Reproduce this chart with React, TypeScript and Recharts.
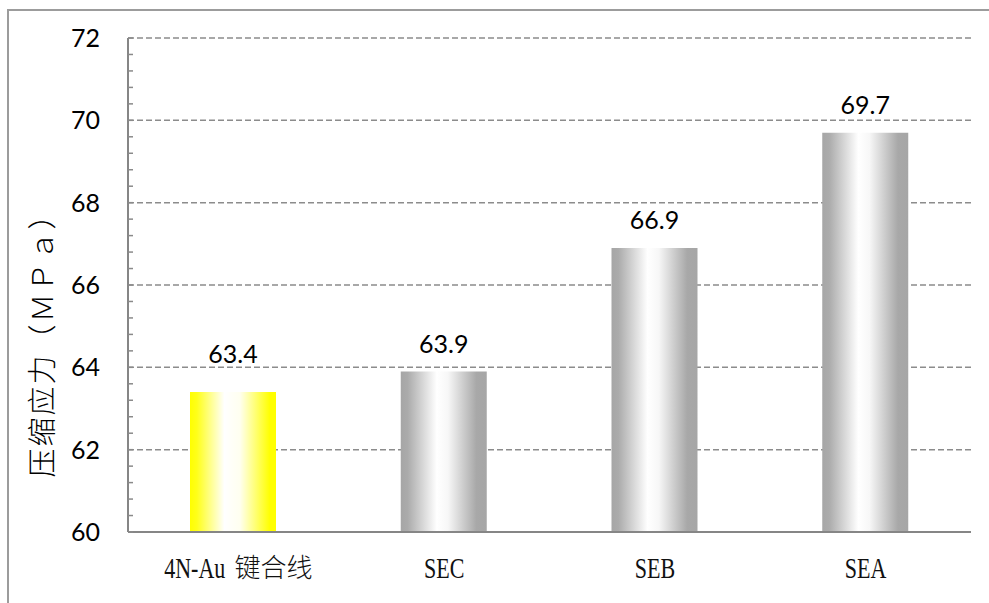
import React from 'react';
import { BarChart, Bar, XAxis, YAxis, CartesianGrid, Cell, LabelList } from 'recharts';

const categories = ['4N-Au 键合线', 'SEC', 'SEB', 'SEA'];
const values = [63.4, 63.9, 66.9, 69.7];
const fills = ['url(#yellowGrad)', 'url(#grayGrad)', 'url(#grayGrad)', 'url(#grayGrad)'];
const labelGaps = [29, 18, 19, 19];
const yTicks = [60, 62, 64, 66, 68, 70, 72];
const minorTicks = [
  60, 60.4, 60.8, 61.2, 61.6, 62, 62.4, 62.8, 63.2, 63.6, 64, 64.4, 64.8, 65.2, 65.6, 66,
  66.4, 66.8, 67.2, 67.6, 68, 68.4, 68.8, 69.2, 69.6, 70, 70.4, 70.8, 71.2, 71.6, 72,
];
const yLabel = '压缩应力（ＭＰａ）';

const data = categories.map((name, i) => ({ name, value: values[i] }));

const LATIN_FONT = "'Liberation Serif', serif";
const CJK_FONT = "'Noto Sans CJK SC', sans-serif";
const Y_TICK_MARGIN = 28;

const LatinText = ({ x, y, anchor, children }: any) => (
  <text
    transform={`translate(${x}, ${y}) scale(0.76, 1)`}
    x={0}
    y={0}
    textAnchor={anchor}
    fill="#111"
    fontSize={29}
    fontWeight={400}
    fontFamily={LATIN_FONT}
  >
    {children}
  </text>
);

const XTick = (props: any) => {
  const { x, y, payload } = props;
  const base = y + 46;
  const parts = String(payload.value).split(' ');
  if (parts.length > 1) {
    return (
      <g>
        <LatinText x={x - 8} y={base} anchor="end">
          {parts[0]}
        </LatinText>
        <text
          x={x + 1}
          y={base - 1}
          textAnchor="start"
          fill="#111"
          fontSize={26}
          fontWeight={300}
          fontFamily={CJK_FONT}
        >
          {parts.slice(1).join(' ')}
        </text>
      </g>
    );
  }
  return (
    <LatinText x={x} y={base} anchor="middle">
      {payload.value}
    </LatinText>
  );
};

const YTick = (props: any) => {
  const { x, y, payload } = props;
  const v = payload.value;
  const axisX = x + Y_TICK_MARGIN;
  const isMajor = yTicks.some((t) => Math.abs(t - v) < 1e-6);
  return (
    <g>
      <line x1={axisX} x2={axisX + 5} y1={y} y2={y} stroke="#8a8a8a" strokeWidth={1.5} />
      {isMajor && (
        <text
          x={x}
          y={y}
          dy="0.355em"
          textAnchor="end"
          fill="#000"
          fontSize={25}
          fontFamily="Lato, sans-serif"
        >
          {v}
        </text>
      )}
    </g>
  );
};

const YLabel = () => (
  <text
    x={40}
    y={338}
    transform="rotate(-90, 40, 338)"
    textAnchor="middle"
    dominantBaseline="central"
    fill="#000"
    fontSize={29}
    letterSpacing={2}
    fontWeight={300}
    fontFamily={CJK_FONT}
  >
    {yLabel}
  </text>
);

const ValueLabel = (props: any) => {
  const { x, y, width, value, index } = props;
  return (
    <text
      x={x + width / 2}
      y={y - labelGaps[index]}
      textAnchor="middle"
      fill="#000"
      fontSize={25}
      fontFamily="Lato, sans-serif"
    >
      {value}
    </text>
  );
};

export default function App() {
  return (
    <div style={{ position: 'absolute', left: 0, top: 0, width: 989, height: 603, overflow: 'hidden', background: '#fff' }}>
      <div
        style={{
          position: 'absolute',
          left: 7,
          top: 9,
          width: 1100,
          height: 1000,
          border: '2px solid #9c9c9c',
        }}
      />
      <div style={{ position: 'absolute', left: 0, top: 0 }}>
        <BarChart
          width={989}
          height={603}
          data={data}
          margin={{ top: 38, right: 18, bottom: 0, left: 0 }}
          barSize={86}
        >
          <defs>
            <linearGradient id="grayGrad" x1="0" y1="0" x2="1" y2="0">
              <stop offset="0" stopColor="#a6a6a6" />
              <stop offset="0.08" stopColor="#ababab" />
              <stop offset="0.42" stopColor="#ffffff" />
              <stop offset="0.55" stopColor="#f7f7f7" />
              <stop offset="0.88" stopColor="#a8a8a8" />
              <stop offset="1" stopColor="#a6a6a6" />
            </linearGradient>
            <linearGradient id="yellowGrad" x1="0" y1="0" x2="1" y2="0">
              <stop offset="0" stopColor="#ffff00" />
              <stop offset="0.08" stopColor="#ffff1a" />
              <stop offset="0.4" stopColor="#ffffff" />
              <stop offset="0.58" stopColor="#fffff0" />
              <stop offset="0.93" stopColor="#ffff00" />
              <stop offset="1" stopColor="#ffff00" />
            </linearGradient>
          </defs>
          <CartesianGrid
            vertical={false}
            horizontalValues={yTicks}
            stroke="#8c8c8c"
            strokeWidth={1.5}
            strokeDasharray="6 3"
          />
          <XAxis
            dataKey="name"
            height={71}
            axisLine={{ stroke: '#868686', strokeWidth: 2 }}
            tickLine={false}
            tickSize={0}
            tickMargin={0}
            tick={<XTick />}
            interval={0}
          />
          <YAxis
            width={128}
            domain={[60, 72]}
            ticks={minorTicks}
            interval={0}
            axisLine={{ stroke: '#868686', strokeWidth: 2 }}
            tickLine={false}
            tickSize={0}
            tickMargin={Y_TICK_MARGIN}
            tick={<YTick />}
            label={<YLabel />}
          />
          <Bar dataKey="value" isAnimationActive={false}>
            {data.map((d, i) => (
              <Cell key={d.name} fill={fills[i]} />
            ))}
            <LabelList dataKey="value" content={<ValueLabel />} />
          </Bar>
        </BarChart>
      </div>
    </div>
  );
}
